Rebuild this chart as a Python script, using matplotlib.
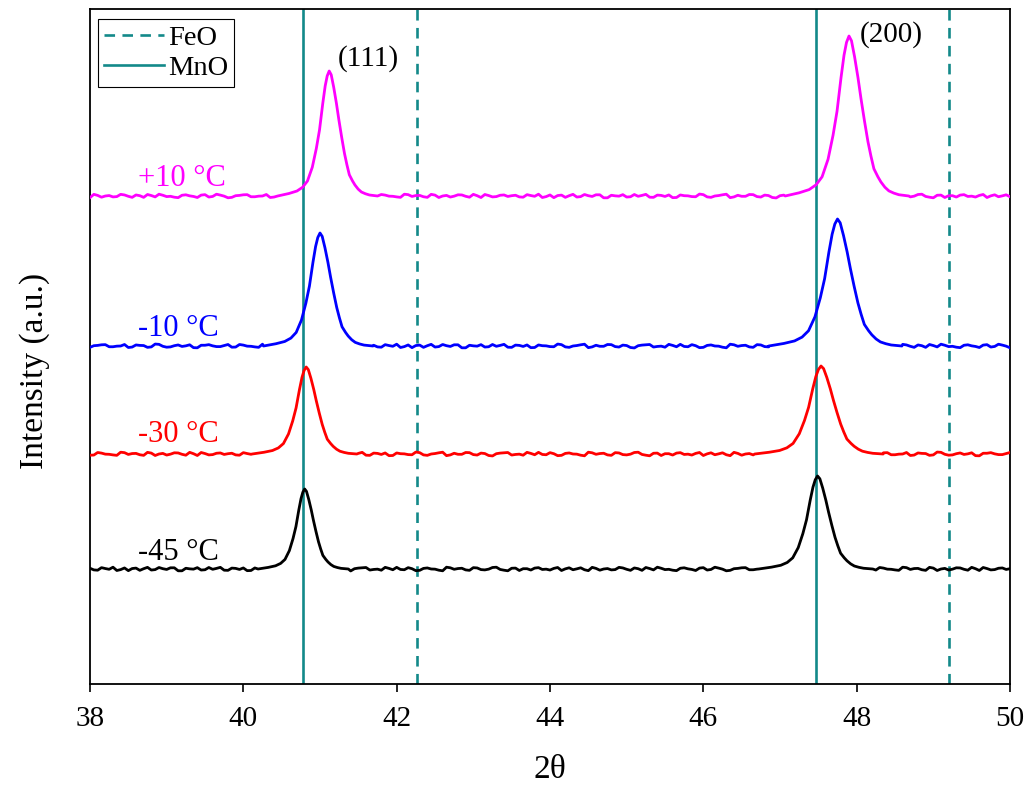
import matplotlib
matplotlib.use("Agg")
import matplotlib.pyplot as plt
from matplotlib.lines import Line2D
import numpy as np

plt.rcParams['font.family'] = ['Liberation Serif', 'DejaVu Serif']

# samples, bottom to top
labels = ['-45 °C', '-30 °C', '-10 °C', '+10 °C']
colors = ['black', '#ff0000', '#0000ff', '#ff00ff']
baselines = [115, 230, 338, 488]

# (111) and (200) peaks: position, height, width factor
pos_111 = [40.80, 40.82, 41.00, 41.12]
pos_200 = [47.49, 47.535, 47.75, 47.90]
height_111 = [80, 87, 113, 125]
height_200 = [93, 88, 127, 160]
width_111 = [0.95, 1.1, 1.15, 1.05]
width_200 = [1.2, 1.35, 1.4, 1.3]

# peak profile read from the (111) peak of the +10 °C pattern
prof_off = [-0.64, -0.50, -0.40, -0.33, -0.27, -0.21, -0.16, -0.12, -0.08, -0.05,
            -0.025, 0.0, 0.025, 0.056, 0.09, 0.12, 0.155, 0.19, 0.22, 0.25,
            0.29, 0.32, 0.36, 0.40, 0.45, 0.50, 0.60]
prof_val = [0.0, 0.02, 0.04, 0.07, 0.12, 0.23, 0.38, 0.53, 0.74, 0.88,
            0.96, 1.0, 0.97, 0.87, 0.74, 0.61, 0.47, 0.34, 0.25, 0.17,
            0.12, 0.088, 0.055, 0.032, 0.018, 0.008, 0.0]

# background wobble at whole 0.1 deg steps (38 .. 50)
jitter = [0.5, -0.8, 0.3, 1.2, -0.4, -1.1, 0.6, 0.2, -0.7, 1.0,
          -0.3, 0.8, -1.2, 0.1, 0.9, -0.5, -0.2, 1.1, -0.9, 0.4,
          0.7, -1.0, 0.2, -0.4, 1.3, -0.6, 0.0, 0.8, -1.1, 0.5,
          -0.2, 0.9, -0.7, 0.3, -1.3, 0.6, 1.0, -0.3, -0.8, 0.4,
          1.1, -0.5, 0.2, -0.9, 0.7, -0.1, -1.2, 0.8, 0.3, -0.6,
          0.9, -0.4, -0.1, 1.2, -0.8, 0.5, -1.0, 0.2, 0.6, -0.3,
          -0.7, 1.0, 0.1, -0.5, 0.8, -1.1, 0.4, 0.0, -0.6, 1.1,
          -0.2, 0.7, -0.9, 0.3, 1.2, -0.4, -0.8, 0.5, 0.1, -1.0,
          0.9, -0.3, 0.6, -1.2, 0.2, 0.8, -0.5, -0.1, 1.0, -0.7,
          0.4, -0.9, 1.3, -0.2, -0.6, 0.7, 0.1, -1.1, 0.5, 0.9,
          -0.4, 0.3, -0.8, 1.0, -0.1, -0.6, 1.2, -0.3, 0.4, -0.9,
          0.6, 0.0, -0.7, 0.8, -0.2, 1.1, -1.0, 0.3, -0.4, 0.7, 0.2]
# and at the half steps in between
jitter_mid = [-0.6, 0.9, -0.2, -1.0, 0.7, 0.3, -0.9, 1.1, -0.4, 0.2,
              0.8, -1.2, 0.5, -0.1, -0.7, 1.0, 0.4, -0.8, 0.6, -0.3,
              -1.1, 0.7, 0.1, -0.5, 0.9, -0.9, 0.3, 1.2, -0.6, -0.2,
              1.0, -0.4, 0.6, -1.0, 0.2, 0.8, -0.7, -0.1, 1.1, -0.5,
              -0.3, 0.9, -1.1, 0.4, 0.0, -0.8, 1.2, -0.2, 0.5, -0.9,
              0.7, -0.6, 1.0, -0.3, -1.2, 0.6, 0.2, -0.7, 0.9, -0.1,
              0.4, -1.0, 0.8, 0.1, -0.5, 1.1, -0.8, 0.3, -0.4, 0.7,
              -0.9, 0.2, 1.0, -0.6, 0.5, -0.2, -1.1, 0.8, -0.3, 0.6,
              -0.7, 1.2, -0.1, -0.9, 0.4, 0.9, -0.5, 0.0, -1.0, 0.7,
              0.3, -0.6, 1.1, -0.8, 0.2, -0.3, 0.8, -1.2, 0.5, 0.1,
              -0.4, 1.0, -0.7, 0.6, -0.2, -0.9, 0.9, 0.3, -0.5, 1.1,
              -1.0, 0.4, -0.1, 0.7, -0.8, 0.2, 1.0, -0.6, 0.5, -0.3]

mno_lines = [40.78, 47.47]
feo_lines = [42.265, 49.20]
teal = '#13898a'
dash = (0, (4, 2.8))

fig = plt.figure(figsize=(10.27, 7.91), dpi=100)
ax = fig.add_axes([90 / 1027, 107 / 791, 920 / 1027, 675 / 791])

noise = np.empty(len(jitter) + len(jitter_mid))
noise[0::2] = jitter
noise[1::2] = jitter_mid
grid = np.linspace(38, 50, len(noise))
off = np.array(prof_off)
val = np.array(prof_val)

for i in range(4):
    jit = np.roll(noise, 37 * i) * 1.5
    keep = np.ones(len(grid), dtype=bool)
    xs, ys = [], []
    for c, h, w in [(pos_111[i], height_111[i], width_111[i]),
                    (pos_200[i], height_200[i], width_200[i])]:
        px = c + w * off
        keep &= (grid < px[0]) | (grid > px[-1])
        xs.append(px)
        ys.append(baselines[i] + h * val)
    xs.append(grid[keep])
    ys.append(baselines[i] + jit[keep])
    x = np.concatenate(xs)
    y = np.concatenate(ys)
    order = np.argsort(x)
    ax.plot(x[order], y[order], color=colors[i], lw=2.0, zorder=3)

label_y = [132, 249, 356, 505]
for i in range(4):
    ax.text(38.62, label_y[i], labels[i], color=colors[i], fontsize=22,
            ha='left', va='center')

for xv in feo_lines:
    ax.axvline(xv, color=teal, lw=1.9, ls=dash, zorder=2)
for xv in mno_lines:
    ax.axvline(xv, color=teal, lw=1.9, zorder=2)

ax.text(41.23, 625, '(111)', fontsize=21, ha='left', va='center')
ax.text(48.04, 649, '(200)', fontsize=21, ha='left', va='center')

handles = [Line2D([], [], color=teal, lw=1.9, ls=dash),
           Line2D([], [], color=teal, lw=1.9)]
leg = ax.legend(handles, ['FeO', 'MnO'], loc='upper left',
                bbox_to_anchor=(0.009, 0.985), borderaxespad=0,
                fontsize=20.5, handlelength=2.1, fancybox=False,
                framealpha=1, edgecolor='black', borderpad=0.2,
                labelspacing=0.15, handletextpad=0.15)
leg.get_frame().set_linewidth(0.8)

ax.set_xlim(38, 50)
ax.set_ylim(0, 675)
ax.set_xticks([38, 40, 42, 44, 46, 48, 50])
ax.set_yticks([])
ax.tick_params(axis='x', direction='out', length=6, width=1.2,
               labelsize=21, pad=10)
for s in ax.spines.values():
    s.set_linewidth(1.3)

ax.set_xlabel('2θ', fontsize=24, labelpad=16)
ax.set_ylabel('Intensity (a.u.)', fontsize=24)
ax.yaxis.set_label_coords(-0.044, 0.464)

fig.savefig('out.png', dpi=100)
